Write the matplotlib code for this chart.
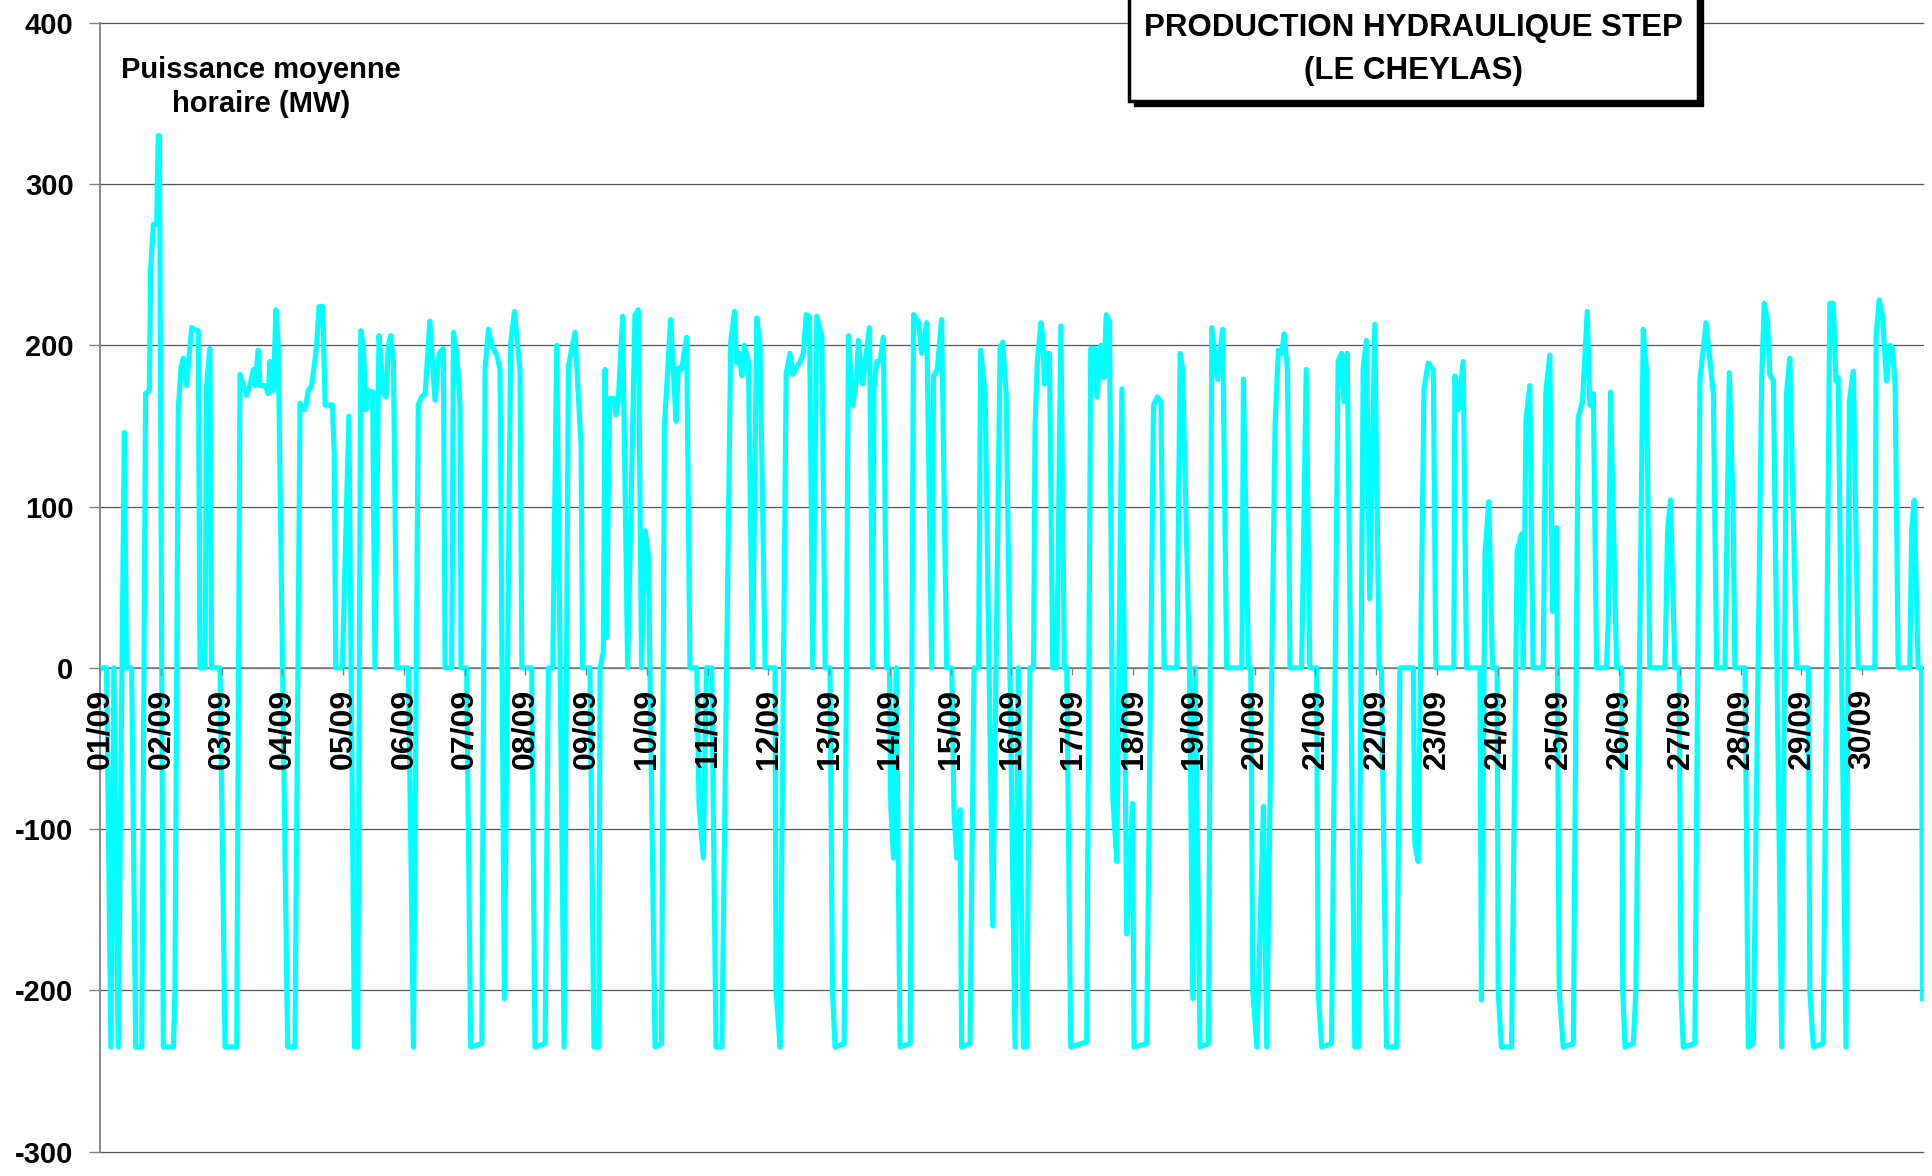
import matplotlib
matplotlib.use("Agg")
import matplotlib.pyplot as plt
import numpy as np
from matplotlib.patches import Rectangle

plt.rcParams['font.family'] = ['Liberation Sans', 'DejaVu Sans']
plt.rcParams['axes.unicode_minus'] = False

# mean hourly power (MW) as (hour since 01/09 00h, MW)
sep01_05 = [(0.7, 0), (2.6, 0), (4.3, -235), (5.5, 0), (7.2, -235), (9.6, 146), (10.5, 0), (12.5, 0),
            (14.1, -235), (16.5, -235), (18.0, 170), (19.5, 172), (20.0, 247), (21.1, 275), (22.4, 275),
            (23.0, 330), (23.5, 330), (25.0, -235), (29.0, -235), (29.6, -200), (30.9, 160), (32.0, 186),
            (32.9, 192), (34.2, 175), (36.2, 211), (37.1, 210), (38.8, 209), (39.5, 0), (41.5, 0),
            (42.1, 175), (43.4, 198), (44.1, 0), (47.4, 0), (49.4, -235), (54.0, -235), (55.3, 182),
            (57.9, 169), (59.2, 175), (60.6, 185), (61.2, 175), (62.5, 197), (63.2, 175), (65.2, 175),
            (66.5, 170), (67.1, 190), (68.5, 172), (69.5, 222), (70.4, 200), (74.1, -235), (77.0, -235),
            (79.0, 164), (81.0, 160), (82.3, 172), (83.6, 175), (85.6, 200), (86.5, 224), (88.0, 224),
            (88.9, 163), (91.8, 163), (92.5, 133), (93.1, 0), (95.7, 0), (98.3, 156), (100.5, -235),
            (101.8, -235), (103.0, 209), (104.0, 200), (105.0, 160), (106.0, 172), (107.7, 171),
            (108.6, 0), (110.2, 206), (111.9, 170), (113.0, 168), (113.9, 200), (114.8, 206),
            (115.9, 190), (117.2, 0), (121.8, 0)]
sep06_10 = [(123.8, -235), (125.7, 163), (127.0, 168), (128.4, 170), (130.3, 215), (132.3, 166),
            (134.0, 195), (135.6, 198), (136.3, 0), (138.9, 0), (139.6, 208), (140.9, 195), (142.2, 163),
            (142.6, 0), (144.8, 0), (146.4, -235), (150.8, -233), (152.1, 186), (153.4, 210), (154.7, 200),
            (156.7, 194), (158.0, 185), (159.7, -205), (162.2, 202), (163.7, 221), (165.9, 184), (166.6, 0),
            (170.5, 0), (171.8, -235), (175.8, -233), (177.1, 0), (178.8, 0), (180.4, 200), (183.3, -235),
            (185.0, 187), (187.6, 208), (190.0, 138), (190.6, 0), (193.5, 0), (195.1, -235), (197.0, -235),
            (197.5, 0), (198.8, 10), (199.5, 185), (200.1, 19), (201.2, 167), (202.8, 167), (203.8, 157),
            (204.7, 165), (206.4, 218), (208.4, 0), (211.3, 219), (212.6, 222), (213.9, 0), (215.3, 85),
            (216.6, 70), (219.2, -235), (221.8, -233), (222.9, 150), (225.4, 216), (227.5, 153),
            (228.4, 186), (229.7, 185), (231.7, 205), (233.0, 0), (235.7, 0), (236.6, -85), (238.3, -118),
            (239.5, 0), (241.6, 0)]
sep11_15 = [(243.3, -235), (245.6, -235), (249.1, 202), (250.6, 221), (251.5, 189), (252.5, 195),
            (253.5, 181), (254.5, 200), (256.1, 190), (257.7, 0), (259.4, 217), (260.7, 200), (262.7, 0),
            (266.6, 0), (267.0, -200), (268.6, -235), (271.0, 182), (272.5, 195), (273.6, 182), (276.5, 190),
            (277.8, 195), (278.9, 219), (280.2, 218), (281.5, 0), (283.1, 218), (285.1, 205), (286.4, 0),
            (288.3, 0), (289.3, -200), (290.3, -235), (293.9, -233), (295.6, 206), (297.3, 163),
            (298.9, 180), (299.5, 203), (301.2, 176), (303.9, 211), (305.2, 0), (305.7, 174), (306.8, 190),
            (308.1, 190), (309.4, 205), (310.7, 0), (311.8, 0), (312.3, -85), (313.4, -118), (314.5, 0),
            (316.0, -235), (320.0, -233), (321.3, 219), (323.2, 215), (324.5, 195), (326.5, 214),
            (328.5, 0), (329.2, 181), (330.7, 185), (332.4, 216), (334.4, 0), (336.4, 0), (337.3, -90),
            (338.4, -118), (339.7, -88), (340.3, -235), (343.6, -233), (345.2, 0), (347.0, 0),
            (347.8, 197), (349.6, 170), (352.6, -160), (355.5, 198), (356.5, 202), (357.9, 170)]
sep16_20 = [(361.4, -235), (362.7, 0), (364.7, -235), (366.0, -235), (367.3, 0), (368.7, 0), (369.3, 150),
            (370.2, 190), (371.6, 214), (372.4, 205), (373.0, 176), (373.9, 195), (375.0, 195), (376.3, 0),
            (377.9, 0), (379.5, 212), (380.9, 0), (381.8, 0), (383.4, -235), (389.7, -232), (391.3, 198),
            (393.0, 198), (393.7, 168), (395.3, 200), (396.6, 180), (397.4, 219), (398.7, 215),
            (400.0, -80), (401.6, -120), (403.6, 173), (405.5, -165), (407.8, -84), (408.4, -235),
            (413.4, -233), (416.1, 163), (417.6, 168), (419.0, 165), (420.3, 0), (425.3, 0), (426.6, 195),
            (427.6, 185), (430.3, 0), (431.6, -205), (432.5, 0), (434.5, -235), (437.8, -233), (439.1, 211),
            (441.3, 179), (443.4, 210), (445.0, 0), (451.0, 0), (451.6, 179), (453.6, 0), (454.5, 0),
            (455.3, -200), (456.9, -235), (459.5, -86), (460.8, -235), (464.1, 150), (465.4, 197),
            (466.7, 195), (467.7, 207), (469.0, 185), (470.0, 0), (474.6, 0), (476.4, 185)]
sep21_25 = [(477.8, 0), (480.5, 0), (481.1, -200), (482.5, -235), (486.4, -233), (489.0, 190), (490.4, 195),
            (491.3, 165), (492.6, 195), (495.6, -235), (497.0, -235), (498.9, 186), (500.2, 203),
            (501.5, 43), (503.5, 213), (505.2, 0), (506.1, 0), (508.1, -235), (512.1, -235), (513.4, 0),
            (518.7, 0), (519.3, -109), (520.6, -120), (522.9, 173), (524.6, 189), (526.6, 185), (527.6, 0),
            (534.7, 0), (535.1, 181), (536.4, 160), (538.4, 190), (539.7, 0), (545.0, 0), (545.6, -206),
            (547.0, 70), (548.5, 103), (550.0, 0), (551.8, 0), (552.2, -200), (553.5, -235), (557.5, -235),
            (559.7, 72), (561.4, 83), (562.1, 0), (563.2, 154), (564.7, 175), (566.0, 0), (570.0, 0),
            (571.0, 170), (572.6, 194), (573.7, 35), (575.3, 87), (576.3, -200), (577.9, -235),
            (581.9, -233), (583.8, 155), (585.5, 165), (587.4, 221), (588.4, 163), (589.8, 170),
            (591.1, 0), (595.0, 0), (595.7, 30)]
sep26_30 = [(596.6, 171), (599.0, 0), (601.0, 0), (601.4, -200), (602.3, -235), (605.6, -233), (606.6, -200),
            (609.5, 210), (610.8, 184), (612.1, 0), (618.1, 0), (619.1, 85), (620.3, 104), (622.0, 0),
            (623.7, 0), (624.4, -200), (625.3, -235), (629.9, -233), (631.9, 178), (634.3, 214),
            (637.2, 170), (638.5, 0), (641.8, 0), (643.5, 183), (645.0, 100), (645.7, 0), (649.7, 0),
            (651.0, -235), (653.0, -233), (656.3, 180), (657.3, 226), (658.6, 215), (659.5, 182),
            (660.9, 178), (664.2, -235), (666.1, 170), (667.4, 192), (670.1, 0), (674.7, 0), (675.3, -200),
            (676.7, -235), (680.6, -233), (683.2, 226), (684.6, 226), (685.6, 178), (686.5, 180),
            (689.6, -235), (690.9, 165), (692.5, 184), (694.4, 0), (701.0, 0), (701.5, 206), (702.7, 228),
            (704.0, 218), (705.6, 178), (707.0, 200), (708.0, 198), (709.0, 175), (710.2, 0), (714.8, 0),
            (715.5, 85), (716.5, 104), (718.1, 0), (719.4, 0), (719.8, -205)]

day_labels = ["01/09", "02/09", "03/09", "04/09", "05/09", "06/09", "07/09", "08/09", "09/09", "10/09",
              "11/09", "12/09", "13/09", "14/09", "15/09", "16/09", "17/09", "18/09", "19/09", "20/09",
              "21/09", "22/09", "23/09", "24/09", "25/09", "26/09", "27/09", "28/09", "29/09", "30/09"]
y_ticks = [-300, -200, -100, 0, 100, 200, 300, 400]

trace = np.array(sep01_05 + sep06_10 + sep11_15 + sep16_20 + sep21_25 + sep26_30)
hours = trace[:, 0]
mw = trace[:, 1]

W, H = 1933, 1176
rect = [100 / W, 24.3 / H, 1823 / W, 1129 / H]
xmax = 24 * len(day_labels)
fig = plt.figure(figsize=(W / 100, H / 100), dpi=100)
ax = fig.add_axes(rect)

# axis styling first: moving the spine resets the tick labels
ax.spines["top"].set_visible(False)
ax.spines["right"].set_visible(False)
ax.spines["bottom"].set_position(("data", 0))
ax.spines["bottom"].set_color("#808080")
ax.spines["bottom"].set_linewidth(1.2)
ax.spines["left"].set_color("#808080")
ax.spines["left"].set_linewidth(1.3)

ax.plot(hours, mw, color="#00FFFF", lw=3.7, solid_joinstyle="round", zorder=3)

ax.set_xlim(0, xmax)
ax.set_ylim(-300, 400)
ax.set_yticks(y_ticks)
ax.set_yticklabels([str(t) for t in y_ticks], fontsize=21, fontweight="bold")
ax.tick_params(axis="y", length=8, width=1, color="#808080", pad=11)
ax.set_xticks([])

ax.yaxis.grid(True, color="#555555", lw=0.9)
ax.set_axisbelow(True)
for gl in ax.get_ygridlines():
    gl.set_clip_on(False)

# overlay axes so the day labels sit on top of the curve
ax2 = fig.add_axes(rect)
ax2.patch.set_visible(False)
for side in ["top", "right", "left"]:
    ax2.spines[side].set_visible(False)
ax2.spines["bottom"].set_position(("data", 0))
ax2.spines["bottom"].set_visible(False)
ax2.set_xlim(0, xmax)
ax2.set_ylim(-300, 400)
ax2.set_yticks([])
ax2.set_xticks(np.arange(len(day_labels)) * 24)
ax2.set_xticklabels(day_labels, rotation=90, fontsize=23, fontweight="bold")
ax2.tick_params(axis="x", length=5, width=1, color="#808080", pad=10)

# title box with drop shadow
bx0, bx1, by1 = 1129, 1698, 101
fig.add_artist(Rectangle((bx0 / W + 5 / W, 1 - (by1 + 5) / H), (bx1 - bx0) / W, 0.2,
                         transform=fig.transFigure, facecolor="black", edgecolor="black", zorder=1))
fig.add_artist(Rectangle((bx0 / W, 1 - by1 / H), (bx1 - bx0) / W, 0.2,
                         transform=fig.transFigure, facecolor="white", edgecolor="black", lw=2.5, zorder=1.1))
fig.text((bx0 + bx1) / 2 / W, 1 - 28 / H, "PRODUCTION HYDRAULIQUE STEP", ha="center", va="center",
         fontsize=22.5, fontweight="bold", zorder=4)
fig.text((bx0 + bx1) / 2 / W, 1 - 71 / H, "(LE CHEYLAS)", ha="center", va="center",
         fontsize=22.5, fontweight="bold", zorder=4)

fig.text(261 / W, 1 - 87 / H, "Puissance moyenne\nhoraire (MW)", ha="center", va="center",
         multialignment="center", fontsize=21, fontweight="bold", linespacing=1.25)

fig.savefig("out.png", dpi=100)
